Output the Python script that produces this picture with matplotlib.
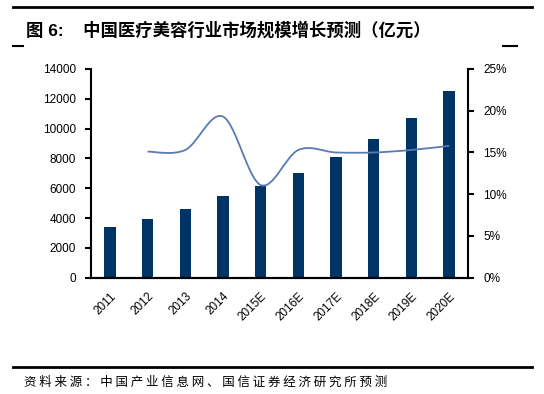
import matplotlib
matplotlib.use('Agg')
import matplotlib.pyplot as plt
from matplotlib.path import Path
from matplotlib.patches import PathPatch
from matplotlib.ticker import FuncFormatter
import numpy as np

plt.rcParams['font.family'] = ['Liberation Sans', 'Noto Sans CJK SC', 'DejaVu Sans']

years = ['2011', '2012', '2013', '2014', '2015E', '2016E', '2017E', '2018E', '2019E', '2020E']
market = [3410, 3950, 4600, 5480, 6130, 7000, 8110, 9320, 10740, 12510]
growth = [None, 15.1, 15.3, 19.3, 11.1, 15.3, 15.0, 15.0, 15.3, 15.8]

bar_color = '#003366'
line_color = '#5B79B4'

fig = plt.figure(figsize=(5.44, 3.94), dpi=100)
ax = fig.add_axes([0.1673, 0.2952, 0.6930, 0.5297])
ax2 = ax.twinx()

x = np.arange(len(years))
ax.bar(x, market, width=0.3, color=bar_color, zorder=2)
ax.set_xlim(-0.5, len(years) - 0.5)
ax.set_ylim(0, 14000)
ax.set_yticks(range(0, 14001, 2000))
ax.set_xticks(x)
ax.set_xticklabels(years, rotation=45, ha='right', rotation_mode='anchor', fontsize=8.5)
ax.tick_params(axis='x', length=0, pad=9)
ax.tick_params(axis='y', labelsize=8.5, length=4, width=1.5, direction='out', pad=7)

# smoothed growth line (Bezier through the points, like Excel's smoothed line)
gx = [i for i, g in enumerate(growth) if g is not None]
gy = [g for g in growth if g is not None]
pts = list(zip(gx, gy))
verts = [pts[0]]
codes = [Path.MOVETO]
for i in range(len(pts) - 1):
    p0 = np.array(pts[i - 1] if i > 0 else pts[i])
    p1 = np.array(pts[i])
    p2 = np.array(pts[i + 1])
    p3 = np.array(pts[i + 2] if i + 2 < len(pts) else pts[i + 1])
    c1 = p1 + (p2 - p0) / 6
    c2 = p2 - (p3 - p1) / 6
    verts += [tuple(c1), tuple(c2), tuple(p2)]
    codes += [Path.CURVE4] * 3
ax2.add_patch(PathPatch(Path(verts, codes), facecolor='none', edgecolor=line_color, lw=1.3, zorder=3))
ax2.set_ylim(0, 25)
ax2.set_yticks(range(0, 26, 5))
ax2.yaxis.set_major_formatter(FuncFormatter(lambda v, p: '%d%%' % v))
ax2.tick_params(axis='y', labelsize=8.5, length=4, width=1.5, direction='out', pad=7)

for a in (ax, ax2):
    a.spines['top'].set_visible(False)
    for s in ('left', 'right', 'bottom'):
        a.spines[s].set_linewidth(1.5)
ax.spines['right'].set_visible(False)
ax2.spines['left'].set_visible(False)

# header / footer
fig.add_artist(plt.Line2D([0.024, 0.978], [0.982, 0.982], color='black', lw=2))
fig.add_artist(plt.Line2D([0.024, 0.042], [0.882, 0.882], color='black', lw=1.5))
fig.add_artist(plt.Line2D([0.925, 0.95], [0.882, 0.882], color='black', lw=1.5))
fig.text(0.047, 0.925, '图 6:    中国医疗美容行业市场规模增长预测（亿元）', fontsize=12.5, fontweight='bold',
         va='center', ha='left')
fig.add_artist(plt.Line2D([0.024, 0.978], [0.068, 0.068], color='black', lw=2))
fig.text(0.045, 0.03, '资 料 来 源 ： 中 国 产 业 信 息 网 、 国 信 证 券 经 济 研 究 所 预 测',
         fontsize=9, va='center', ha='left', family=['Noto Sans CJK SC', 'DejaVu Sans'])

plt.savefig('out.png', dpi=100)
